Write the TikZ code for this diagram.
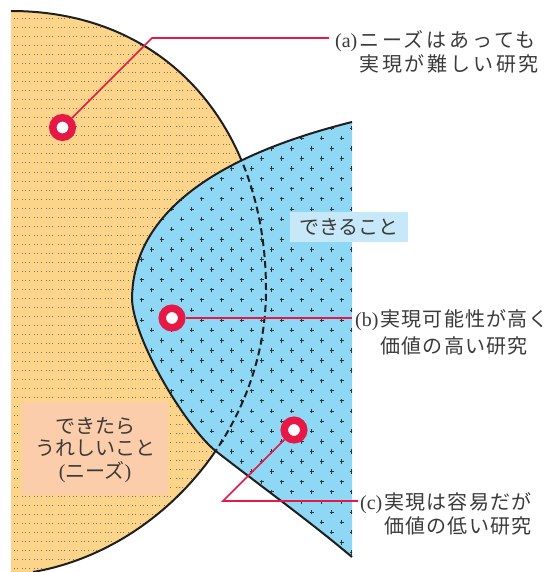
\documentclass[tikz,border=0pt]{standalone}
\usepackage{fontspec}
\setmainfont{Liberation Serif}
\newfontfamily\cjk{Noto Sans CJK JP}
\newfontfamily\cjkw[LetterSpace=6]{Noto Sans CJK JP}
\newfontfamily\cjkww[LetterSpace=14]{Noto Sans CJK JP}
\definecolor{orfill}{RGB}{253,213,138}
\definecolor{blfill}{RGB}{142,215,245}
\definecolor{peach}{RGB}{251,205,170}
\definecolor{lblue}{RGB}{198,232,248}
\definecolor{redc}{RGB}{230,25,70}
\definecolor{txt}{RGB}{58,58,58}
\begin{document}
\begin{tikzpicture}[x=1pt,y=-1pt,
  outline/.style={line width=2pt,draw=black!88},
  dashline/.style={line width=2pt,draw=black!88,dash pattern=on 7pt off 4pt},
  dotrow/.style={line width=1pt,draw=black!55,dash pattern=on 1pt off 2.3pt on 1pt off 2.3pt on 1pt off 4.2pt},
  plusst/.style={line width=0.9pt,draw=black!80},
  marker/.style={circle,draw=redc,line width=7.5pt,fill=white,minimum size=19.5pt,inner sep=0pt},
  redline/.style={draw=redc,line width=1.7pt},
  lbl/.style={text=txt,font=\fontsize{20}{22}\selectfont,inner sep=0pt,anchor=base west},
  boxtxt/.style={text=txt,font=\fontsize{20}{22.5}\selectfont\cjk,inner sep=0pt,align=center}]
\useasboundingbox (0,0) rectangle (553,572);
\def\orangeseg{-- (11,11) .. controls (165,11) and (266,125) .. (266,290) .. controls (266,430) and (160,550) .. (33,572)}
\def\blueseg{-- (352,122) .. controls (200,160) and (132,222) .. (132,300) .. controls (135,345) and (190,432) .. (217,452) .. controls (262,487) and (308,520) .. (352,557)}
% orange region
\fill[orfill] (11,572) \orangeseg -- cycle;
\begin{scope}
  \clip (11,572) \orangeseg -- cycle;
  \foreach \y in {19,28,...,572} \draw[dotrow] (10.3,\y) -- (290,\y);
\end{scope}
\draw[outline] (11,11) \orangeseg;
% blue region
\fill[blfill] (352,122) \blueseg -- cycle;
\begin{scope}
  \clip (352,122) \blueseg -- cycle;
  \foreach \k in {0,...,44} {
    \pgfmathsetmacro\yy{118.1+10.1*\k}
    \pgfmathsetmacro\xo{121.7+10*mod(\k,2)}
    \foreach \j in {0,...,11} {
      \pgfmathsetmacro\xx{\xo+20*\j}
      \draw[plusst] (\xx,\yy) +(-2.2,0) -- +(2.2,0) +(0,-2.2) -- +(0,2.2);
    }
  }
  \draw[dashline] (11,11) \orangeseg;
\end{scope}
\draw[outline] (352,122) \blueseg;
% text boxes
\node[fill=lblue,minimum width=118pt,minimum height=30pt,inner sep=0pt] (canbox) at (349,227) {};
\node[boxtxt] (can) at (canbox.center) {できること};
\node[fill=peach,minimum width=146pt,minimum height=93pt,inner sep=0pt] (needbox) at (95,448.5) {};
\node[boxtxt] (need) at (95,450) {できたら\\うれしいこと\\{\rmfamily(}ニーズ{\rmfamily)}};
% markers and leaders
\node[marker] (ma) at (62.5,127.5) {};
\node[marker] (mb) at (172,318) {};
\node[marker] (mc) at (294,430) {};
\coordinate (ka) at (152,38);
\coordinate (ea) at (329,38);
\coordinate (eb) at (352,318);
\coordinate (kc) at (223,501);
\coordinate (ec) at (358,501);
\draw[redline] (ma) -- (ka) -- (ea);
\draw[redline] (mb) -- (eb);
\draw[redline] (mc) -- (kc) -- (ec);
% labels
\node[lbl] (la) at (335,48) {\begin{tabular}[t]{@{}l@{\hspace{2pt}}l@{}}(a)&\cjkww ニーズはあっても\\&\cjkww 実現が難しい研究\end{tabular}};
\node[lbl] (lb) at (355,326) {\begin{tabular}[t]{@{}l@{\hspace{2pt}}l@{}}(b)&\cjkw 実現可能性が高く\\[4.5pt]&\cjkw 価値の高い研究\end{tabular}};
\node[lbl] (lc) at (360,509) {\begin{tabular}[t]{@{}l@{\hspace{2pt}}l@{}}(c)&\cjkw 実現は容易だが\\[1pt]&\cjkw 価値の低い研究\end{tabular}};
\end{tikzpicture}
\end{document}
